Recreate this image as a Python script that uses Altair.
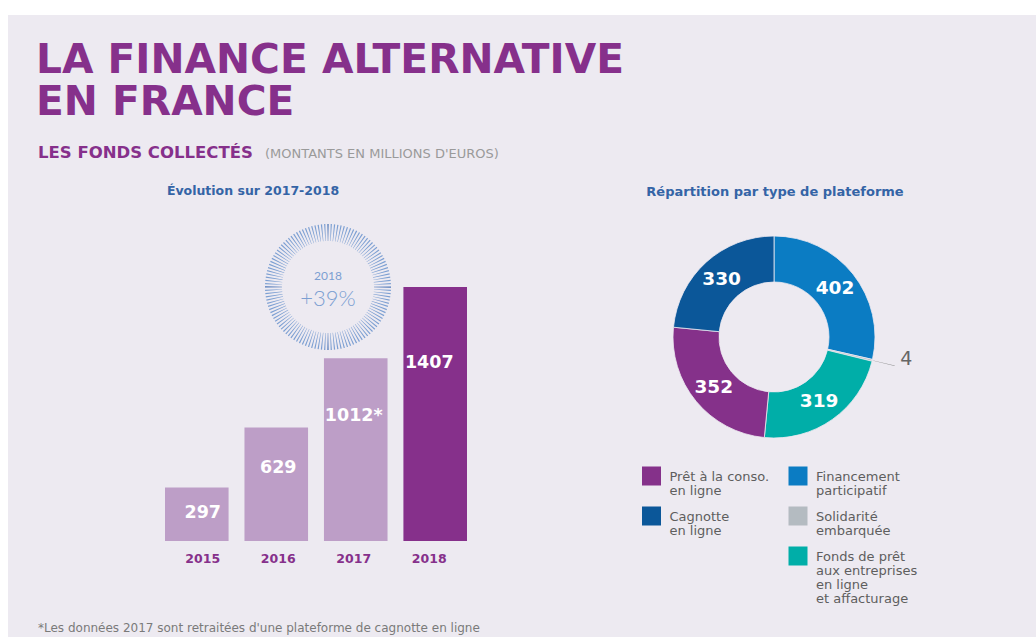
import altair as alt
import pandas as pd

W, H = 1036, 637
BG = "#EDEAF1"
PURPLE = "#86308B"
LIGHT_PURPLE = "#BD9EC7"
BLUE_TXT = "#3464A6"
RING = "#7C9FD2"
FONT = "DejaVu Sans"
LIGHT_FONT = "Lato"

# ---- data ----
years = ["2015", "2016", "2017", "2018"]
funds = [297, 629, 1012, 1407]
fund_labels = ["297", "629", "1012*", "1407"]

platforms = [
    "Financement participatif",
    "Solidarité embarquée",
    "Fonds de prêt aux entreprises en ligne et affacturage",
    "Prêt à la conso. en ligne",
    "Cagnotte en ligne",
]
platform_values = [402, 4, 319, 352, 330]
platform_colors = ["#0B7CC3", "#B4BBC1", "#00AEA8", "#85318A", "#0B5799"]
legend_text = [
    "Financement\nparticipatif",
    "Solidarité\nembarquée",
    "Fonds de prêt\naux entreprises\nen ligne\net affacturage",
    "Prêt à la conso.\nen ligne",
    "Cagnotte\nen ligne",
]
legend_col = [1, 1, 1, 0, 0]
legend_row = [0, 1, 2, 0, 1]

ring_ticks = list(range(120))

# ---- helpers ----
def label(text, x, y, size, color, weight="normal", align="left", font=FONT, line_height=None):
    kw = {}
    if line_height is not None:
        kw = {"lineBreak": "\n", "lineHeight": line_height}
    return alt.Chart(pd.DataFrame({"t": [text]})).mark_text(
        align=align, baseline="alphabetic", fontSize=size, color=color,
        fontWeight=weight, font=font, **kw,
    ).encode(x=alt.value(x), y=alt.value(y), text="t:N")

background = alt.Chart(pd.DataFrame({"a": [0]})).mark_rect(color=BG).encode(
    x=alt.value(8), x2=alt.value(W), y=alt.value(15), y2=alt.value(H)
)

# ---- bar chart ----
bars_df = pd.DataFrame({"year": years, "value": funds, "label": fund_labels})
xs = alt.Scale(domain=years, range=[165, 467], paddingInner=0.2, paddingOuter=0)
ys = alt.Scale(domain=[0, 1407], range=[541, 287])

bars = alt.Chart(bars_df).mark_bar().encode(
    x=alt.X("year:N", scale=xs, axis=None),
    y=alt.Y("value:Q", scale=ys, axis=None),
    color=alt.condition(alt.datum.year == "2018", alt.value(PURPLE), alt.value(LIGHT_PURPLE)),
)
bar_text = alt.Chart(bars_df).transform_calculate(
    ly="datum.value * 0.75 - 67"
).mark_text(color="white", fontSize=17.5, fontWeight="bold", font=FONT, baseline="middle").encode(
    x=alt.X("year:N", scale=xs, axis=None),
    y=alt.Y("ly:Q", scale=ys, axis=None),
    text="label:N",
)
year_text = alt.Chart(bars_df).mark_text(
    color=PURPLE, fontSize=12.5, fontWeight="bold", font=FONT, baseline="middle"
).encode(
    x=alt.X("year:N", scale=xs, axis=None),
    y=alt.value(559),
    text="year:N",
)

# ---- ring badge ----
ring_df = pd.DataFrame({"k": ring_ticks})
ring = alt.Chart(ring_df).transform_calculate(one="1").mark_arc(
    innerRadius=46, outerRadius=63, padAngle=0.026
).encode(
    theta=alt.Theta("one:Q", stack=True, scale=alt.Scale(range=[-0.026, 6.2572])),
    order=alt.Order("k:Q"),
    color=alt.condition("datum.k % 30 == 0", alt.value("#4A74B6"), alt.value(RING)),
    x=alt.value(328), y=alt.value(287),
)

# ---- donut ----
donut_df = pd.DataFrame({"platform": platforms, "value": platform_values, "o": list(range(5))})
theta = alt.Theta("value:Q", stack=True, scale=alt.Scale(domain=[0, 1407]))
cscale = alt.Scale(domain=platforms, range=platform_colors)

donut = alt.Chart(donut_df).mark_arc(innerRadius=55, outerRadius=101, stroke=BG, strokeWidth=0.8).encode(
    theta=theta, order=alt.Order("o:Q"),
    color=alt.Color("platform:N", scale=cscale, legend=None),
    x=alt.value(774), y=alt.value(337),
)
donut_text = alt.Chart(donut_df).mark_text(
    radius=78, fontSize=18.5, fontWeight="bold", font=FONT, color="white"
).encode(
    theta=theta, order=alt.Order("o:Q"),
    text=alt.condition("datum.value > 10", alt.Text("value:Q"), alt.value("")),
    x=alt.value(774), y=alt.value(337),
)
leader = alt.Chart(donut_df).mark_arc(innerRadius=102, outerRadius=124, padAngle=0.01).encode(
    theta=theta, order=alt.Order("o:Q"),
    color=alt.condition("datum.value < 10", alt.value("#8A8A8A"), alt.value("transparent")),
    x=alt.value(774), y=alt.value(337),
)
small_text = alt.Chart(donut_df).mark_text(
    radius=133, fontSize=19, font=FONT, color="#666666", dx=3, dy=-9
).encode(
    theta=theta, order=alt.Order("o:Q"),
    text=alt.condition("datum.value < 10", alt.Text("value:Q"), alt.value("")),
    x=alt.value(774), y=alt.value(337),
)

# ---- legend ----
legend_df = pd.DataFrame({"platform": platforms, "txt": legend_text, "col": legend_col, "row": legend_row})
lx = alt.Scale(type="point", domain=[0, 1], range=[651.5, 798], padding=0)
ly = alt.Scale(type="point", domain=[0, 1, 2], range=[476, 556], padding=0)
leg_sq = alt.Chart(legend_df).mark_square(size=361, opacity=1).encode(
    x=alt.X("col:O", scale=lx, axis=None),
    y=alt.Y("row:O", scale=ly, axis=None),
    color=alt.Color("platform:N", scale=cscale, legend=None),
)
leg_txt = alt.Chart(legend_df).mark_text(
    align="left", baseline="alphabetic", dx=18, dy=5, lineBreak="\n", lineHeight=14,
    fontSize=13, font=FONT, color="#5E5E5E",
).encode(
    x=alt.X("col:O", scale=lx, axis=None),
    y=alt.Y("row:O", scale=ly, axis=None),
    text="txt:N",
)

# ---- texts ----
texts = [
    label("LA FINANCE ALTERNATIVE\nEN FRANCE", 36, 73, 40.7, PURPLE, weight="bold", line_height=42),
    label("LES FONDS COLLECTÉS", 38, 157.5, 16.5, PURPLE, weight="bold"),
    label("(MONTANTS EN MILLIONS D'EUROS)", 265, 157.5, 13, "#9A9A9A"),
    label("Évolution sur 2017-2018", 253, 195, 12.5, BLUE_TXT, weight="bold", align="center"),
    label("Répartition par type de plateforme", 775, 196, 13, BLUE_TXT, weight="bold", align="center"),
    label("2018", 328, 280, 12, RING, align="center", font=LIGHT_FONT),
    label("+39%", 328, 306, 22, RING, weight=300, align="center", font=LIGHT_FONT),
    label("*Les données 2017 sont retraitées d'une plateforme de cagnotte en ligne", 38, 632, 12, "#7A7A7A"),
]

chart = alt.layer(
    background, bars, bar_text, year_text, ring, donut, leader, donut_text, small_text,
    leg_sq, leg_txt, *texts
).resolve_scale(
    x="independent", y="independent", color="independent", theta="independent"
).properties(
    width=W, height=H, autosize=alt.AutoSizeParams(type="none"), padding=0,
    background="white",
).configure_view(stroke=None)

chart.save("out.html", embed_options={"renderer": "svg", "actions": False})
